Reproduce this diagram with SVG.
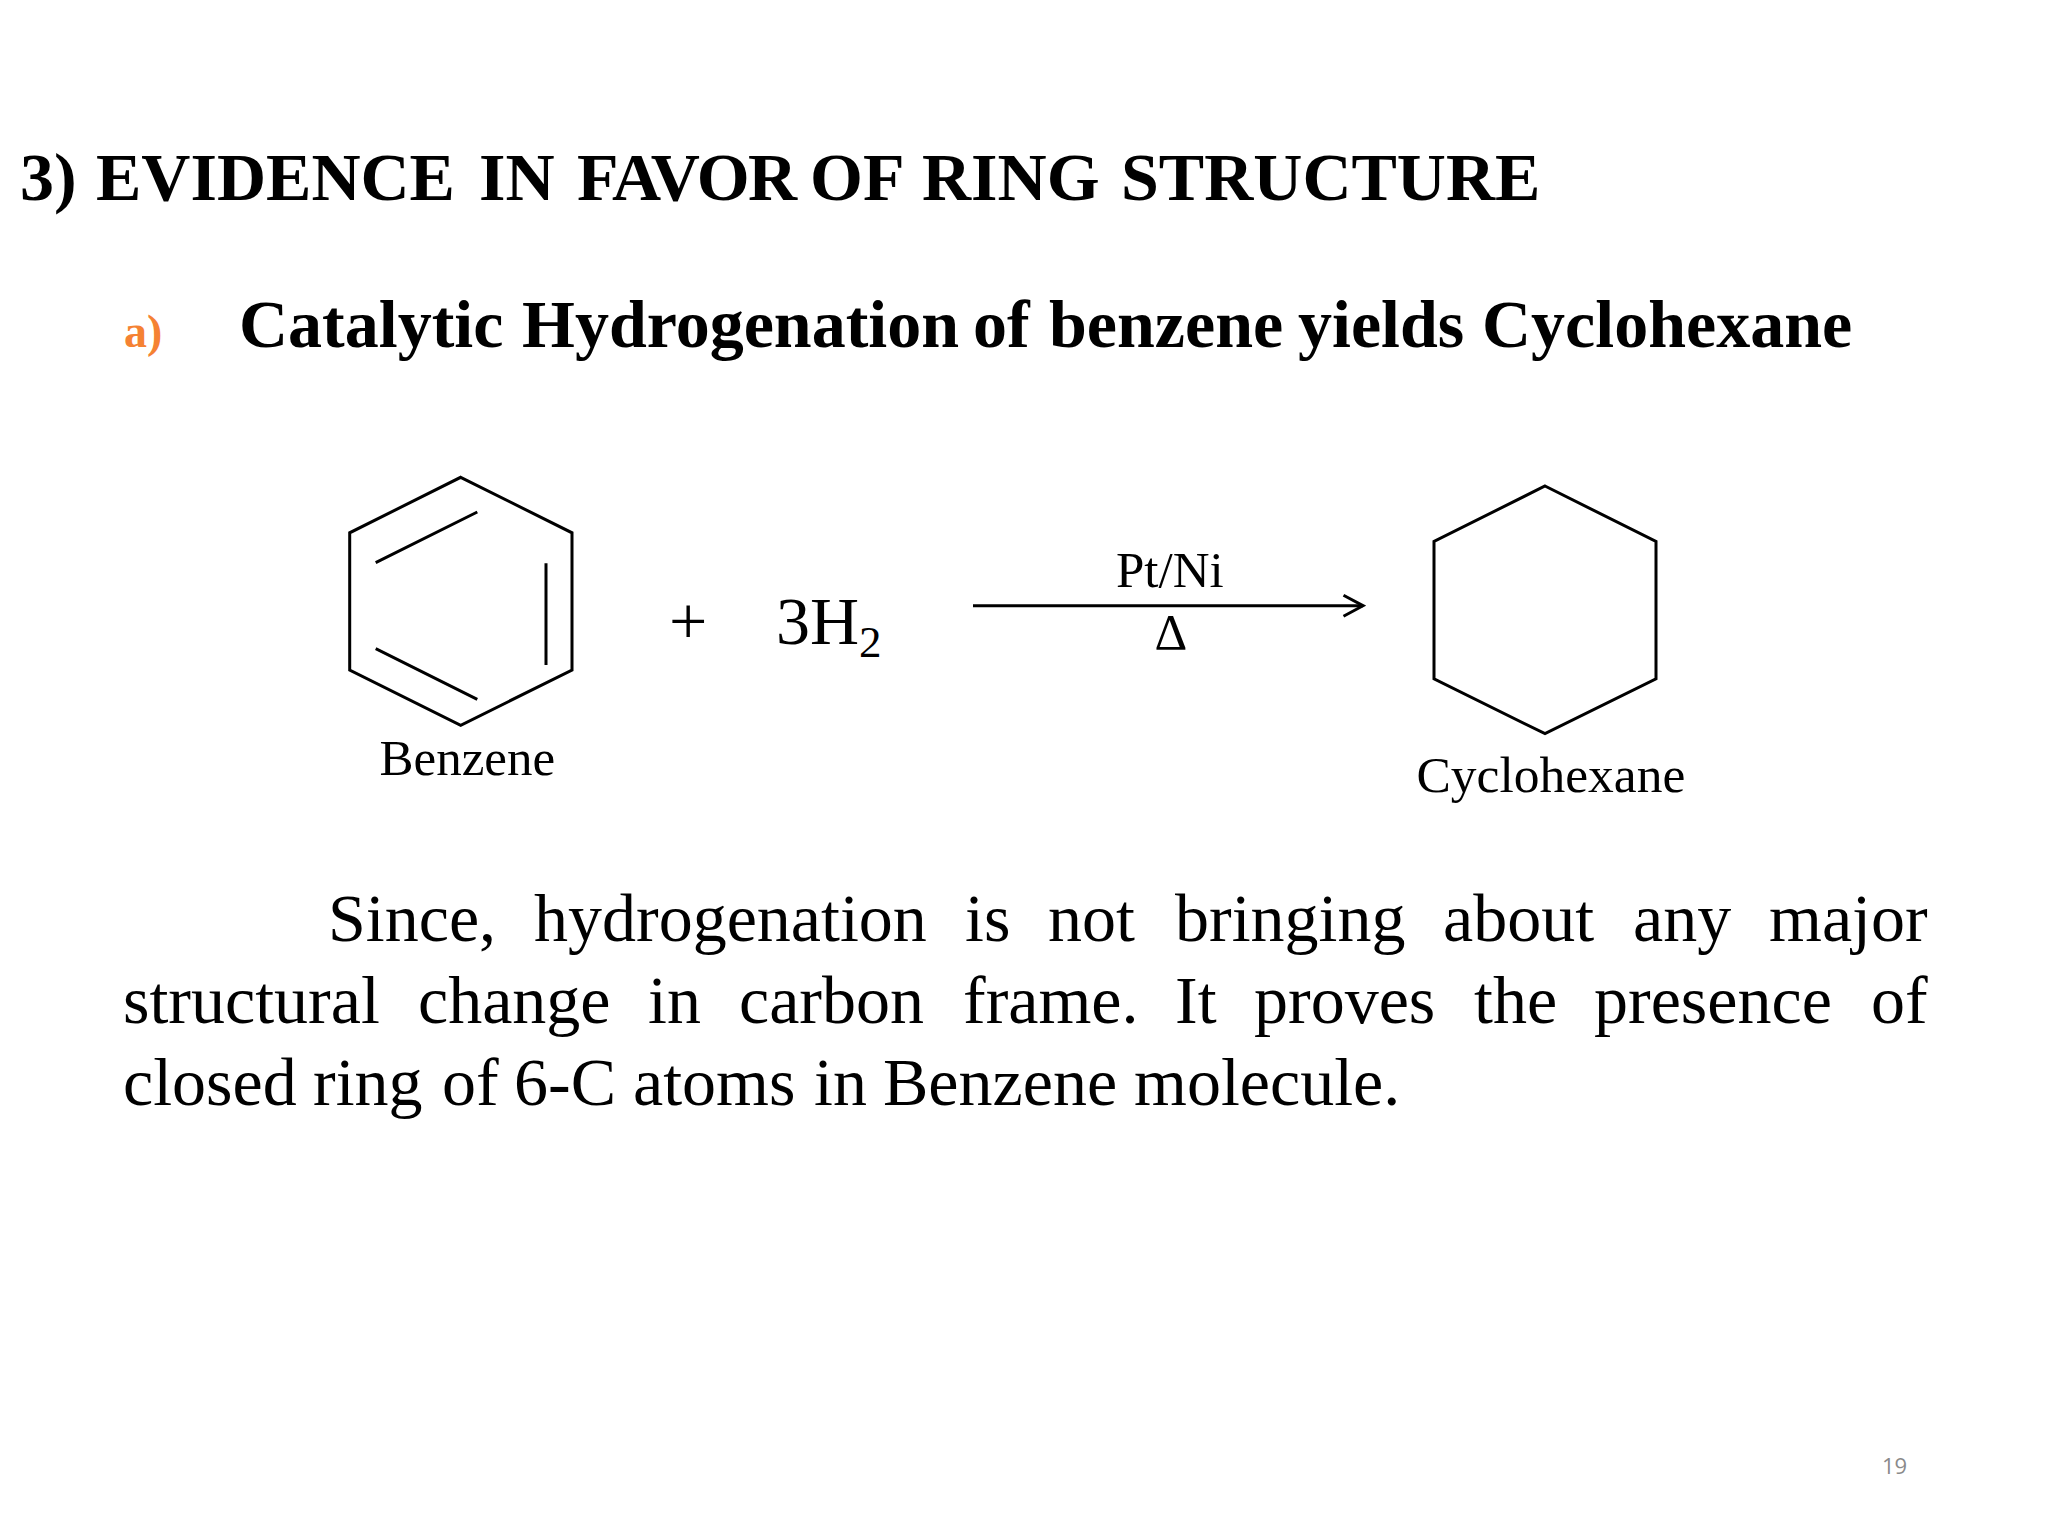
<svg xmlns="http://www.w3.org/2000/svg" width="2048" height="1536" viewBox="0 0 2048 1536">
<style>
text{font-family:"Liberation Serif","Times New Roman",serif;fill:#000}
.b{font-weight:700;font-size:68px}
.ring{fill:none;stroke:#000;stroke-width:3}
.p{font-size:68px}
.l{font-size:51px}
</style>
<defs><marker id="head" markerUnits="userSpaceOnUse" markerWidth="24" markerHeight="28" refX="21" refY="14" orient="auto"><path d="M1.500 3.500L21 14L1.500 24.500" fill="none" stroke="#000" stroke-width="3"/></marker></defs>
<rect width="2048" height="1536" fill="#fff"/>
<text id="title" class="b" y="200"><tspan x="20">3)</tspan> <tspan x="96">EVIDENCE</tspan> <tspan x="479">IN</tspan> <tspan x="577" letter-spacing="-1.600">FAVOR</tspan> <tspan x="810">OF</tspan> <tspan x="922">RING</tspan> <tspan x="1121">STRUCTURE</tspan></text>
<text id="bullet" x="124" y="347" style="font-weight:700;font-size:46px;fill:#F58233">a)</text>
<text id="subtitle" class="b" y="347"><tspan x="239">Catalytic</tspan> <tspan x="522">Hydrogenation</tspan> <tspan x="973">of</tspan> <tspan x="1049">benzene</tspan> <tspan x="1298">yields</tspan> <tspan x="1482">Cyclohexane</tspan></text>
<g id="benzene">
<path class="ring" d="M460.700 477.300L572 532.800V670L460.700 725.300L349.700 670V532.800Z"/>
<path class="ring" d="M375.700 562.700L477.300 512M546 563.300V665M375.700 648.700L477.300 699.300"/>
<text class="l" x="379.500" y="775">Benzene</text>
</g>
<g id="reagent">
<text x="669" y="644" font-size="68">+</text>
<text x="776" y="644" font-size="68">3H<tspan dy="13" font-size="45">2</tspan></text>
</g>
<g id="connectors">
<path d="M973 605.700H1363" fill="none" stroke="#000" stroke-width="3" marker-end="url(#head)"/>
</g>
<g id="conditions">
<text class="l" x="1116" y="587">Pt/Ni</text>
<text class="l" x="1171" y="649" text-anchor="middle">Δ</text>
</g>
<g id="cyclohexane">
<path class="ring" d="M1545 486L1656 541.500V678.800L1545 733.700L1434 678.800V541.500Z"/>
<text class="l" x="1416.500" y="791.700" style="font-size:51.500px">Cyclohexane</text>
</g>
<g id="body">
<text class="p" y="941"><tspan x="328">Since,</tspan> <tspan x="534">hydrogenation</tspan> <tspan x="965">is</tspan> <tspan x="1048">not</tspan> <tspan x="1175">bringing</tspan> <tspan x="1443">about</tspan> <tspan x="1633">any</tspan> <tspan x="1769">major</tspan></text>
<text class="p" y="1023"><tspan x="123">structural</tspan> <tspan x="418">change</tspan> <tspan x="648">in</tspan> <tspan x="739">carbon</tspan> <tspan x="963">frame.</tspan> <tspan x="1175">It</tspan> <tspan x="1254">proves</tspan> <tspan x="1474">the</tspan> <tspan x="1594">presence</tspan> <tspan x="1871">of</tspan></text>
<text class="p" y="1105"><tspan x="123">closed</tspan> <tspan x="313">ring</tspan> <tspan x="442">of</tspan> <tspan x="514">6-C</tspan> <tspan x="633">atoms</tspan> <tspan x="814">in</tspan> <tspan x="883">Benzene</tspan> <tspan x="1134">molecule.</tspan></text>
</g>
<text id="page" x="1882" y="1474" style="font-family:'Open Sans','Liberation Sans',sans-serif;fill:#8a8a8a;font-size:22px">19</text>
</svg>
